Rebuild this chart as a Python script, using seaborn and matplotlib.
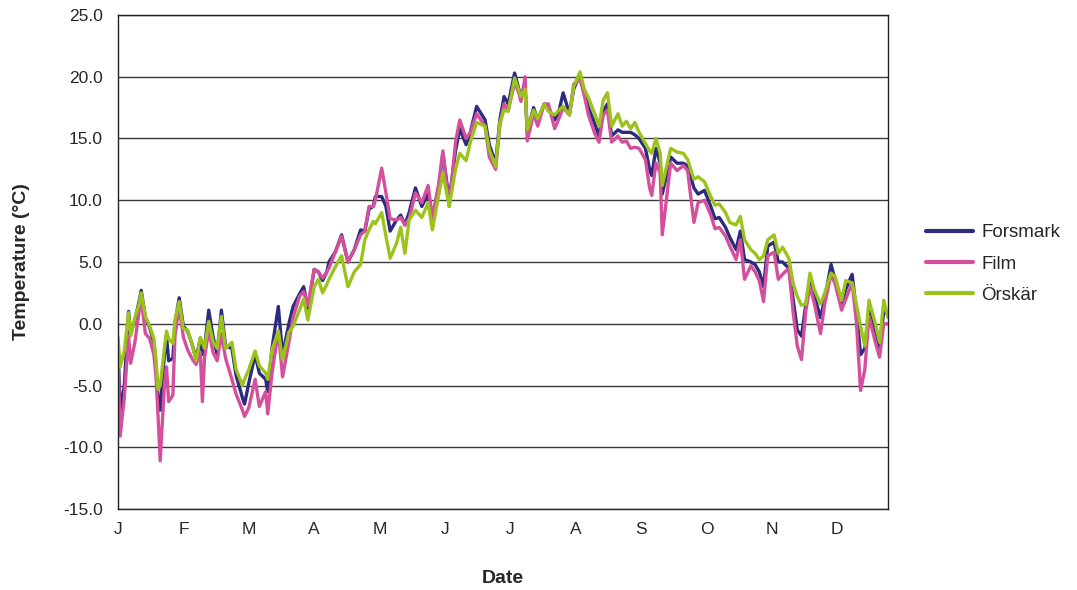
import numpy as np
import pandas as pd
import matplotlib
matplotlib.use("Agg")
import matplotlib.pyplot as plt
import seaborn as sns

days = [0, 1, 3, 5, 6, 8, 10, 11, 13, 15, 17, 18, 19, 20, 22, 23, 24, 26, 27, 29,
        31, 33, 35, 37, 39, 40, 41, 43, 45, 47, 49, 51, 54, 56, 59, 60, 62, 65, 67, 70,
        71, 73, 76, 78, 81, 83, 86, 88, 90, 93, 95, 97, 99, 100, 103, 106, 109, 112, 115, 117,
        119, 121, 122, 125, 127, 129, 132, 134, 136, 138, 141, 144, 147, 149, 152, 154, 157, 160, 162, 165,
        167, 170, 174, 176, 179, 181, 183, 185, 188, 190, 191, 193, 194, 197, 199, 202, 204, 207, 209, 211,
        214, 216, 219, 221, 223, 226, 228, 230, 232, 234, 237, 239, 241, 243, 245, 247, 250, 252, 253, 255,
        257, 258, 262, 265, 268, 270, 273, 275, 278, 281, 283, 285, 288, 290, 293, 295, 297, 300, 302, 304,
        306, 308, 311, 313, 315, 318, 320, 322, 324, 326, 328, 330, 333, 335, 338, 340, 343, 345, 348, 350,
        352, 354, 356, 359, 361, 363, 365]

forsmark = [-1.8, -7.0, -5.0, 1.0, -0.8, 0.3, 1.8, 2.7, 0.5, -0.3, -1.5, -3.5, -6.0, -7.0, -2.5, -1.0, -3.0, -2.8, 0.0, 2.1,
            -0.2, -0.6, -1.6, -2.8, -1.2, -2.5, -2.0, 1.1, -1.0, -2.5, 1.1, -1.8, -2.0, -4.2, -6.0, -6.5, -4.8, -2.5, -4.0, -4.5,
            -5.5, -2.0, 1.4, -2.5, 0.0, 1.4, 2.4, 3.0, 1.2, 4.4, 4.2, 3.5, 4.2, 5.0, 5.8, 7.2, 5.0, 6.0, 7.6, 7.5,
            9.3, 9.5, 10.3, 10.3, 9.5, 7.5, 8.4, 8.8, 8.0, 9.0, 11.0, 9.5, 10.5, 8.5, 11.0, 13.8, 10.0, 14.0, 15.8, 14.5,
            15.5, 17.6, 16.5, 14.5, 13.0, 16.5, 18.4, 17.8, 20.3, 19.0, 18.5, 19.0, 15.5, 17.5, 16.5, 17.8, 17.5, 16.5, 17.2, 18.7,
            17.0, 19.0, 20.2, 18.8, 17.5, 16.2, 15.2, 17.2, 17.8, 15.2, 15.7, 15.5, 15.5, 15.5, 15.3, 15.0, 14.2, 12.5, 12.0, 14.2,
            13.0, 10.5, 13.5, 13.0, 13.0, 12.8, 11.0, 10.5, 10.8, 9.5, 8.5, 8.6, 7.8, 7.0, 6.0, 7.5, 5.2, 5.0, 4.8, 4.2,
            3.0, 6.3, 6.6, 5.0, 5.0, 4.5, 2.0, -0.5, -1.0, 1.5, 3.6, 2.3, 0.5, 2.0, 4.8, 3.5, 1.5, 2.8, 4.0, 1.0,
            -2.5, -2.0, 1.0, -0.5, -2.0, 1.0, 0.8]

film = [-2.4, -9.1, -6.0, -1.0, -3.2, -1.5, 1.0, 2.0, -0.8, -1.2, -2.5, -4.2, -7.5, -11.1, -5.0, -3.5, -6.3, -5.8, -1.0, 1.4,
        -1.1, -2.1, -2.8, -3.3, -2.3, -6.3, -2.8, -0.5, -2.3, -3.0, -0.8, -2.8, -4.5, -5.7, -7.0, -7.5, -6.8, -4.5, -6.7, -5.5,
        -7.3, -4.0, -0.6, -4.3, -1.5, 0.5, 2.2, 2.6, 1.5, 4.4, 4.2, 3.7, 4.2, 4.5, 5.8, 7.1, 5.0, 6.0, 7.2, 7.5,
        9.5, 9.5, 10.0, 12.6, 10.6, 8.5, 8.4, 8.6, 8.0, 8.5, 10.6, 9.8, 11.2, 8.6, 11.3, 14.0, 9.5, 14.7, 16.5, 15.0,
        15.5, 17.0, 16.0, 13.5, 12.5, 16.0, 17.8, 17.3, 19.5, 18.7, 18.0, 20.0, 14.8, 17.0, 16.0, 17.8, 17.8, 15.8, 16.6, 17.5,
        16.9, 19.4, 19.8, 18.5, 16.9, 15.4, 14.7, 16.9, 17.3, 14.7, 15.2, 14.7, 14.8, 14.2, 14.3, 14.2, 13.3, 11.0, 10.4, 13.0,
        12.2, 7.2, 13.0, 12.4, 12.8, 12.4, 8.2, 9.8, 10.0, 8.8, 7.7, 7.8, 7.1, 6.3, 5.2, 6.8, 3.6, 4.7, 4.2, 3.5,
        1.8, 5.5, 5.8, 3.6, 4.0, 4.5, 1.0, -1.8, -2.9, 1.0, 3.0, 1.7, -0.8, 1.6, 4.0, 3.2, 1.1, 2.0, 3.3, 0.2,
        -5.4, -3.7, 0.6, -1.5, -2.7, 0.0, 0.0]

orskar = [-1.1, -3.5, -2.2, 0.9, -1.0, 0.5, 1.6, 2.5, 0.6, -0.2, -1.2, -2.9, -5.3, -5.0, -2.0, -0.6, -1.2, -1.6, 0.3, 1.8,
          -0.4, -0.5, -1.6, -3.0, -1.1, -1.5, -2.0, 0.2, -1.4, -2.0, 0.6, -2.0, -1.5, -3.7, -5.0, -4.5, -3.7, -2.2, -3.4, -4.0,
          -4.5, -2.1, -0.6, -2.9, -0.7, -0.2, 1.1, 2.0, 0.3, 3.0, 3.6, 2.5, 3.2, 3.6, 4.6, 5.5, 3.0, 4.2, 4.8, 6.8,
          7.6, 8.3, 8.1, 9.0, 7.1, 5.3, 6.5, 7.8, 5.7, 8.4, 9.2, 8.6, 9.8, 7.6, 10.4, 12.2, 9.5, 12.5, 13.8, 13.2,
          14.7, 16.3, 16.0, 14.1, 12.7, 16.3, 17.3, 17.2, 19.9, 18.9, 18.4, 19.0, 15.7, 17.3, 16.6, 17.8, 17.2, 16.9, 17.3, 17.6,
          16.9, 19.2, 20.4, 19.0, 18.3, 17.0, 16.0, 18.1, 18.7, 16.0, 17.0, 16.0, 16.4, 15.8, 16.3, 15.5, 14.6, 14.0, 13.8, 15.0,
          13.8, 11.2, 14.2, 13.9, 13.8, 13.3, 11.7, 11.9, 11.5, 10.3, 9.6, 9.7, 9.0, 8.2, 8.0, 8.7, 6.8, 6.0, 5.7, 5.2,
          5.5, 6.8, 7.2, 5.7, 6.2, 5.3, 3.3, 2.2, 1.5, 1.6, 4.1, 2.8, 1.6, 2.5, 4.1, 3.8, 1.9, 3.5, 3.3, 1.6,
          -0.2, -1.8, 1.9, 0.0, -1.5, 1.9, 0.5]

series_names = ["Forsmark", "Film", "Örskär"]
colors = ["#2B2B7F", "#D4509C", "#9CC31C"]
month_labels = ["J", "F", "M", "A", "M", "J", "J", "A", "S", "O", "N", "D"]
y_ticks = [-15, -10, -5, 0, 5, 10, 15, 20, 25]

df = pd.concat([
    pd.DataFrame({"day": days, "temp": vals, "station": name})
    for name, vals in zip(series_names, [forsmark, film, orskar])
], ignore_index=True)

sns.set_style("white")
plt.rcParams["font.family"] = ["Liberation Sans", "DejaVu Sans"]

fig = plt.figure(figsize=(10.77, 5.90), dpi=100)
ax = fig.add_axes([118/1077, 1 - 509/590, (888-118)/1077, (509-15)/590])

sns.lineplot(data=df, x="day", y="temp", hue="station", hue_order=series_names,
             palette=colors, linewidth=2.4, ax=ax, legend=True)

ax.set_xlim(0, 365)
ax.set_ylim(-15, 25)
ax.set_yticks(y_ticks)
ax.set_yticklabels([f"{v:.1f}" for v in y_ticks], fontsize=12.5)
ax.set_xticks([31 * i for i in range(12)])
ax.set_xticklabels(month_labels, fontsize=12.5)
ax.yaxis.grid(True, color="#3a3a3a", linewidth=1.0)
ax.set_axisbelow(True)
for s in ax.spines.values():
    s.set_color("#222222")
    s.set_linewidth(1.0)
ax.tick_params(axis="y", direction="out", length=5, width=1, color="#222222", pad=6)
ax.tick_params(axis="x", direction="out", length=4, width=1, color="#222222", pad=5)

ax.set_xlabel("Date", fontsize=14, fontweight="bold", labelpad=24)
ax.set_ylabel("Temperature (°C)", fontsize=14, fontweight="bold", labelpad=24)

handles, labels = ax.get_legend_handles_labels()
leg = ax.legend(handles, labels, loc="center left", bbox_to_anchor=(909/1077, 1 - 264/590),
                bbox_transform=fig.transFigure, frameon=False, fontsize=13.5,
                handlelength=2.5, handletextpad=0.45, labelspacing=0.75)
for line in leg.get_lines():
    line.set_linewidth(3.0)

fig.savefig("out.png", dpi=100)
